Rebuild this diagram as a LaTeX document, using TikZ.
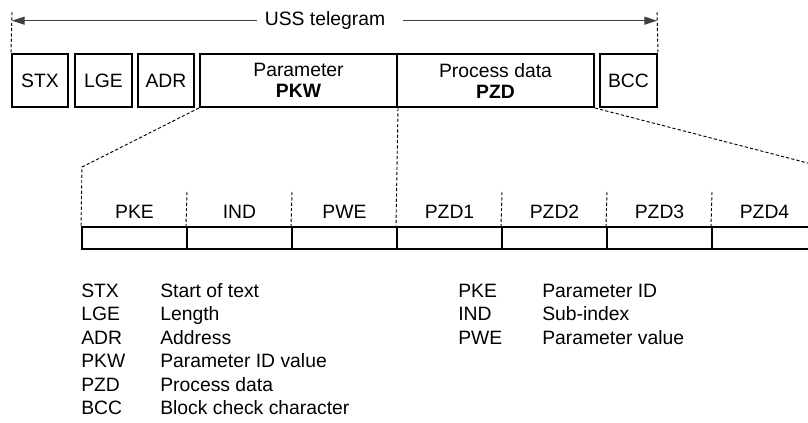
\documentclass[tikz,border=0pt]{standalone}
\usepackage{fontspec}
\setmainfont{Liberation Sans}
\usetikzlibrary{arrows.meta}
\tikzset{
  fld/.style={draw, line width=1.5pt, inner sep=0pt, minimum height=39.75pt, align=center},
  cell/.style={draw, line width=1.5pt, inner sep=0pt, minimum width=78.75pt, minimum height=16pt},
  dsh/.style={line width=0.7pt, dash pattern=on 2.4pt off 1.6pt},
  uss/.style={draw=black!75, line width=0.9pt, -{Triangle[length=9.5pt,width=6pt]}},
  lbl/.style={inner sep=0pt, anchor=base},
  leg/.style={inner sep=0pt, anchor=base west},
}
\begin{document}
\begin{tikzpicture}[x=0.75pt,y=-0.75pt,font=\fontsize{14.5}{15.75}\selectfont]
\useasboundingbox (0,0) rectangle (808,422);
\clip (0,0) rectangle (808,422);
% top fields
\node[fld, minimum width=42pt] (stx) at (40,80.5) {STX};
\node[fld, minimum width=42.75pt] (lge) at (103.5,80.5) {LGE};
\node[fld, minimum width=42pt] (adr) at (166,80.5) {ADR};
\node[fld, minimum width=147.75pt] (pkw) at (298.5,80.5) {Parameter\\\textbf{PKW}};
\node[fld, minimum width=147.75pt] (pzd) at (495.5,80.5) {Process data\\\textbf{PZD}};
\node[fld, minimum width=42.75pt] (bcc) at (628.5,80.5) {BCC};
% telegram arrow
\coordinate (ltop) at (12,12);
\coordinate (rtop) at (657,12);
\coordinate (la) at (12,20.7);
\coordinate (ra) at (657,20.7);
\node[inner sep=0pt] (tel) at (325,20.7) {USS telegram};
\draw[dsh] (ltop) -- (stx.north west);
\draw[dsh] (rtop) -- (bcc.north east);
\draw[uss] ([xshift=-6pt]tel.west) -- (la);
\draw[uss] ([xshift=13pt]tel.east) -- (ra);
% lower cells
\foreach \i/\t in {1/PKE,2/IND,3/PWE,4/PZD1,5/PZD2,6/PZD3,7/PZD4}{
  \node[cell] (c\i) at ({82+105*(\i-1)+52.5},238) {};
  \node[lbl] (t\i) at ({82+105*(\i-1)+52.5},218) {\t};
}
\foreach \i in {2,3,5,6,7}{
  \coordinate (d\i) at ({82+105*(\i-1)},192);
  \draw[dsh] (d\i) -- (c\i.north west);
}
\coordinate (kl) at (82,167);
\coordinate (kr) at (817,165.4);
\draw[dsh] (pkw.south west) -- (kl) -- (c1.north west);
\draw[dsh] (pkw.south east) -- (c4.north west);
\draw[dsh] (pzd.south east) -- (kr) -- (c7.north east);
% legend left
\foreach \i/\a/\b in {0/STX/Start of text,1/LGE/Length,2/ADR/Address,3/PKW/Parameter ID value,4/PZD/Process data,5/BCC/Block check character}{
  \node[leg] (la\i) at (81,{297+23.5*\i}) {\a};
  \node[leg] (lb\i) at (160,{297+23.5*\i}) {\b};
}
% legend right
\foreach \i/\a/\b in {0/PKE/Parameter ID,1/IND/Sub-index,2/PWE/Parameter value}{
  \node[leg] (ra\i) at (458,{297+23.5*\i}) {\a};
  \node[leg] (rb\i) at (542,{297+23.5*\i}) {\b};
}
\end{tikzpicture}
\end{document}
